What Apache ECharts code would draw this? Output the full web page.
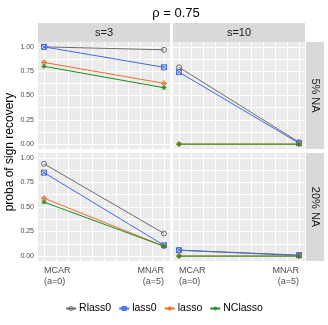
<!DOCTYPE html>
<html lang="en" style="height: 100%">
<head>
  <meta charset="UTF-8">
  <title>sign recovery</title>
  <script src="https://cdn.jsdelivr.net/npm/echarts@6/dist/echarts.min.js"></script>
</head>
<body style="height: 100%; margin: 0; background: #fff">
<div id="container" style="width: 328px; height: 325px"></div>

<script type="text/javascript">
  // x positions: a=0 (MCAR) and a=5 (MNAR)
  var xValues = [0, 5];
  var xLabels = { 0: 'MCAR\n(a=0)', 5: 'MNAR\n(a=5)' };
  var colLabels = ['s=3', 's=10'];
  var rowLabels = ['5% NA', '20% NA'];
  var methods = ['Rlass0', 'lass0', 'lasso', 'NClasso'];
  var yTicks = [0, 0.25, 0.5, 0.75, 1];
  var yGrid = [0, 0.125, 0.25, 0.375, 0.5, 0.625, 0.75, 0.875, 1];
  var xGrid = [0, 0.5, 1, 1.5, 2, 2.5, 3, 3.5, 4, 4.5, 5];

  // values per panel: [s=3 5%, s=10 5%, s=3 20%, s=10 20%], each [MCAR, MNAR]
  var Rlass0  = [[1.00, 0.97], [0.79, 0.02], [0.94, 0.23], [0.06, 0.005]];
  var lass0   = [[1.00, 0.79], [0.74, 0.01], [0.85, 0.11], [0.06, 0.01]];
  var lasso   = [[0.84, 0.625], [0.00, 0.00], [0.59, 0.10], [0.00, 0.00]];
  var NClasso = [[0.80, 0.58], [0.00, 0.00], [0.55, 0.10], [0.00, 0.00]];
  var seriesValues = [Rlass0, lass0, lasso, NClasso];

  var colors = ['#6b6b6b', '#4169e1', '#e8702a', '#228b22'];
  var symbols = [
    'path://M10 5A5 5 0 1 1 0 5A5 5 0 1 1 10 5Z',
    'path://M0 0H10V10H0ZM0 0L10 10M10 0L0 10',
    'path://M5 0L10 5L5 10L0 5ZM5 0V10M0 5H10',
    'path://M5 0V10M0 5H10M1.5 1.5L8.5 8.5M8.5 1.5L1.5 8.5'
  ];

  var panels = [
    { left: 38, top: 42, width: 132, height: 107 },
    { left: 173, top: 42, width: 132, height: 107 },
    { left: 38, top: 153, width: 132, height: 108 },
    { left: 173, top: 153, width: 132, height: 108 }
  ];

  var dom = document.getElementById('container');
  var myChart = echarts.init(dom, null, { renderer: 'canvas' });

  var grid = [], xAxis = [], yAxis = [], series = [], graphic = [];
  var labelStyle = { color: '#4d4d4d', fontSize: 9, fontFamily: 'Liberation Sans', lineHeight: 11 };

  panels.forEach(function (p, i) {
    grid.push({
      left: p.left, top: p.top, width: p.width, height: p.height,
      show: true, backgroundColor: '#ebebeb', borderWidth: 0
    });
    var bottomRow = i >= 2;
    // main x axis: grid lines + left-aligned label
    xAxis.push({
      type: 'value', gridIndex: i, position: 'bottom', min: -0.25, max: 5.25,
      axisLine: { show: false },
      axisTick: { show: false, customValues: xGrid },
      splitLine: { show: true, lineStyle: { color: '#ffffff', width: 1 } },
      axisLabel: Object.assign({
        show: bottomRow, customValues: [xValues[0]], align: 'left', margin: 4,
        formatter: function (v) { return xLabels[v]; }
      }, labelStyle)
    });
    // second x axis for the right-aligned label
    xAxis.push({
      type: 'value', gridIndex: i, position: 'bottom', min: -0.25, max: 5.25,
      axisLine: { show: false }, axisTick: { show: false },
      splitLine: { show: false },
      axisLabel: Object.assign({
        show: bottomRow, customValues: [xValues[1]], align: 'right', margin: 4,
        formatter: function (v) { return xLabels[v]; }
      }, labelStyle)
    });
    yAxis.push({
      type: 'value', gridIndex: i, min: -0.05, max: 1.05,
      axisLine: { show: false },
      axisTick: { show: false, customValues: yGrid },
      splitLine: { show: true, lineStyle: { color: '#ffffff', width: 1 } },
      axisLabel: {
        show: i % 2 === 0, customValues: yTicks, margin: 4,
        color: '#4d4d4d', fontSize: 7, fontFamily: 'Liberation Sans',
        formatter: function (v) { return v.toFixed(2); }
      }
    });
    methods.forEach(function (m, k) {
      series.push({
        name: m, type: 'line',
        xAxisIndex: i * 2, yAxisIndex: i,
        data: xValues.map(function (x, j) { return [x, seriesValues[k][i][j]]; }),
        symbol: symbols[k], symbolSize: 5,
        lineStyle: { color: colors[k], width: 1 },
        itemStyle: { color: 'rgba(0,0,0,0)', borderColor: colors[k], borderWidth: 1 },
        z: 2 + k, silent: true, animation: false
      });
    });
  });

  // column strips
  colLabels.forEach(function (t, c) {
    var p = panels[c];
    graphic.push({
      type: 'rect', shape: { x: p.left, y: 23, width: p.width, height: 19 },
      style: { fill: '#d9d9d9' }
    });
    graphic.push({
      type: 'text', x: p.left + p.width / 2, y: 32.5,
      style: { text: t, fill: '#1a1a1a', fontSize: 11, fontFamily: 'Liberation Sans', align: 'center', verticalAlign: 'middle' }
    });
  });
  // row strips
  rowLabels.forEach(function (t, r) {
    var p = panels[r * 2 + 1];
    graphic.push({
      type: 'rect', shape: { x: 306, y: p.top, width: 18, height: p.height },
      style: { fill: '#d9d9d9' }
    });
    graphic.push({
      type: 'text', x: 315, y: p.top + p.height / 2, rotation: -Math.PI / 2,
      style: { text: t, fill: '#1a1a1a', fontSize: 11, fontFamily: 'Liberation Sans', align: 'center', verticalAlign: 'middle' }
    });
  });
  // y axis title
  graphic.push({
    type: 'text', x: 10, y: 152, rotation: Math.PI / 2,
    style: { text: 'proba of sign recovery', fill: '#000', fontSize: 12, fontFamily: 'Liberation Sans', align: 'center', verticalAlign: 'middle' }
  });

  var option = {
    backgroundColor: '#ffffff',
    animation: false,
    title: {
      text: 'ρ = 0.75', left: 171, top: 2, textAlign: 'center',
      textStyle: { fontSize: 13, fontWeight: 'normal', color: '#000', fontFamily: 'Liberation Sans' }
    },
    legend: {
      data: methods, bottom: 6, left: 'center',
      itemWidth: 10, itemHeight: 5, itemGap: 7,
      itemStyle: { color: 'rgba(0,0,0,0)', borderWidth: 1 },
      textStyle: { fontSize: 10.5, color: '#000', fontFamily: 'Liberation Sans', padding: [0, 0, 0, -2] }
    },
    grid: grid,
    xAxis: xAxis,
    yAxis: yAxis,
    series: series,
    graphic: graphic
  };
  myChart.setOption(option);
</script>
</body>
</html>
